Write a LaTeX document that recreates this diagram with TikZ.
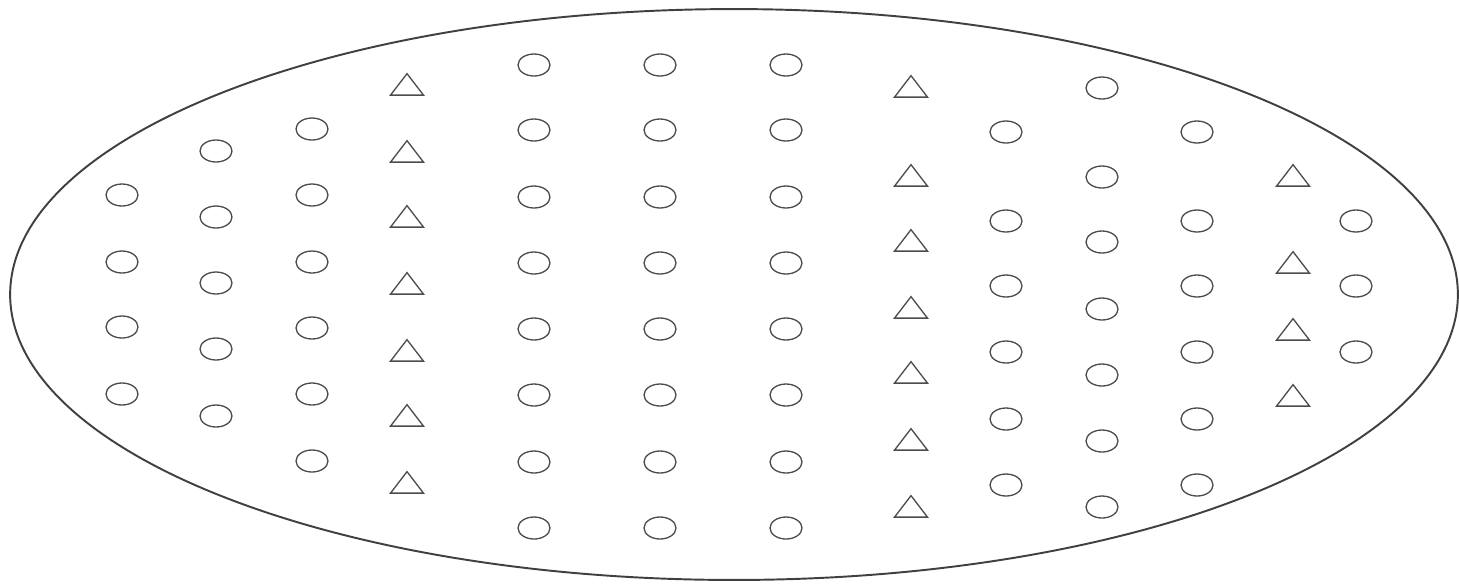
\documentclass[tikz,border=0pt]{standalone}
\usepackage{tikz}
\usetikzlibrary{shapes.geometric}

\begin{document}
\begin{tikzpicture}[
	x=0.02cm, y=-0.02cm,
	field/.style={ellipse, draw=black!75, line width=1.1pt, inner sep=0pt, minimum width=28.96cm, minimum height=11.42cm},
	ring/.style={ellipse, draw=black!70, line width=0.75pt, inner sep=0pt, minimum width=0.64cm, minimum height=0.44cm},
	tri/.style={isosceles triangle, isosceles triangle stretches, shape border rotate=90, draw=black!70, line width=0.75pt, inner sep=0pt, minimum width=0.66cm, minimum height=0.43cm}
]
\useasboundingbox (0,0) rectangle (1459,583);

% outer field
\node[field] (field) at (734,294.5) {};

% columns of circles
\foreach \xx/\ys in {122/{195,262,327,394}, 216/{151,217,283,349,416}, 312/{129,195,262,328,394,461},
	534/{65,130,197,263,329,395,462,528}, 660/{65,130,197,263,329,395,462,528}, 786/{65,130,197,263,329,395,462,528},
	1006/{132,221,286,352,419,485}, 1102/{88,177,242,309,375,441,507}, 1197/{132,221,286,352,419,485},
	1356/{221,286,352}}
	\foreach \yy in \ys
		\node[ring] (o-\xx-\yy) at (\xx,\yy) {};

% columns of triangles
\foreach \xx/\ys in {407/{87,154,219,286,353,418,485}, 911/{89,178,243,310,375,442,509}, 1293/{178,265,332,398}}
	\foreach \yy in \ys
		\node[tri] (t-\xx-\yy) at (\xx,\yy) {};

\end{tikzpicture}
\end{document}
